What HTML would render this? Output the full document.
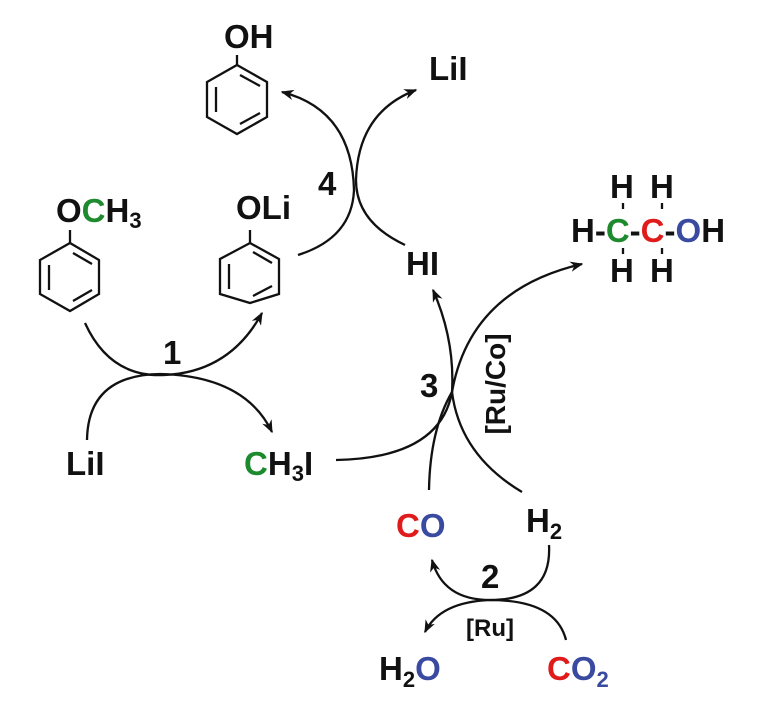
<!DOCTYPE html>
<html><head><meta charset="utf-8"><style>
html,body{margin:0;padding:0;background:#fff;}
svg{display:block;}
text{font-family:"Liberation Sans",Arial,sans-serif;font-weight:bold;fill:#111;}
.g{fill:#1e8a2e}.r{fill:#e01b1b}.b{fill:#3a4aa0}
</style></head><body>
<svg width="780" height="708" viewBox="0 0 780 708">
<defs>
<marker id="ah" viewBox="0 0 10 10" refX="9" refY="5" markerWidth="13" markerHeight="13" orient="auto" markerUnits="userSpaceOnUse">
<path d="M0,1 L10,5 L0,9 L3,5 Z" fill="#111"/></marker>
</defs>
<g fill="none" stroke="#111" stroke-width="2.3">
<polygon points="237,65 267,82 267,117 237,134 207,117 207,82"/>
<line x1="237" y1="55" x2="237" y2="65"/>
<line x1="240" y1="75" x2="260" y2="86"/><line x1="216" y1="87" x2="216" y2="112"/><line x1="240" y1="124" x2="260" y2="113"/>
<polygon points="70,243 99,260 99,294 70,311 40,294 40,260"/>
<line x1="70" y1="230" x2="70" y2="243"/>
<line x1="73" y1="253" x2="92" y2="264"/><line x1="49" y1="265" x2="49" y2="290"/><line x1="73" y1="301" x2="92" y2="290"/>
<polygon points="250,243 279,259 279,294 250,303 220,294 220,259"/>
<line x1="250" y1="230" x2="250" y2="243"/>
<line x1="253" y1="252" x2="272" y2="263"/><line x1="229" y1="264" x2="229" y2="289"/><line x1="253" y1="296" x2="272" y2="286"/>
<path d="M85,323 Q110,378 165,375 Q230,372 262,313" marker-end="url(#ah)"/>
<path d="M87,440 Q88,375 160,374 Q245,376 272,432" marker-end="url(#ah)"/>
<path d="M298,255 Q352,238 354,190 Q352,110 282,92" marker-end="url(#ah)"/>
<path d="M405,245 Q356,222 356,180 Q358,112 416,90" marker-end="url(#ah)"/>
<path d="M336,460 Q440,458 452,392 Q470,290 582,264" marker-end="url(#ah)"/>
<path d="M429,490 Q430,430 452,392 Q455,340 433,290" marker-end="url(#ah)"/>
<path d="M522,492 Q460,455 452,392"/>
<path d="M549,545 Q552,600 490,600 Q443,600 432,560" marker-end="url(#ah)"/>
<path d="M566,640 Q556,600 490,600 Q440,602 425,632" marker-end="url(#ah)"/>
<line x1="623" y1="203" x2="623" y2="209"/><line x1="662" y1="203" x2="662" y2="209"/>
<line x1="623" y1="248" x2="623" y2="254"/><line x1="662" y1="248" x2="662" y2="254"/>
</g>
<g font-size="33">
<text x="224" y="48">OH</text>
<text x="429" y="80">LiI</text>
<text x="56" y="222">O<tspan class="g">C</tspan>H<tspan font-size="22" dy="6">3</tspan></text>
<text x="236" y="219">OLi</text>
<text x="406" y="275">HI</text>
<text x="66" y="475">LiI</text>
<text x="244" y="475"><tspan class="g">C</tspan>H<tspan font-size="22" dy="6">3</tspan><tspan dy="-6">I</tspan></text>
<text x="396" y="537"><tspan class="r">C</tspan><tspan class="b">O</tspan></text>
<text x="526" y="532">H<tspan font-size="22" dy="7">2</tspan></text>
<text x="379" y="680">H<tspan font-size="22" dy="7">2</tspan><tspan class="b" dy="-7">O</tspan></text>
<text x="547" y="680"><tspan class="r">C</tspan><tspan class="b">O<tspan font-size="22" dy="7">2</tspan></tspan></text>
<text x="610" y="198">H</text><text x="650" y="198">H</text>
<text x="610" y="282">H</text><text x="650" y="282">H</text>
<text x="571" y="242">H-<tspan class="g">C</tspan>-<tspan class="r">C</tspan>-<tspan class="b">O</tspan>H</text>
<text x="318" y="195">4</text>
<text x="163" y="364">1</text>
<text x="420" y="397">3</text>
<text x="481" y="588">2</text>
</g>
<text x="490" y="636" font-size="24" text-anchor="middle">[Ru]</text>
<text x="0" y="0" font-size="28" text-anchor="middle" transform="translate(505,384) rotate(-90)">[Ru/Co]</text>
</svg>
</body></html>
